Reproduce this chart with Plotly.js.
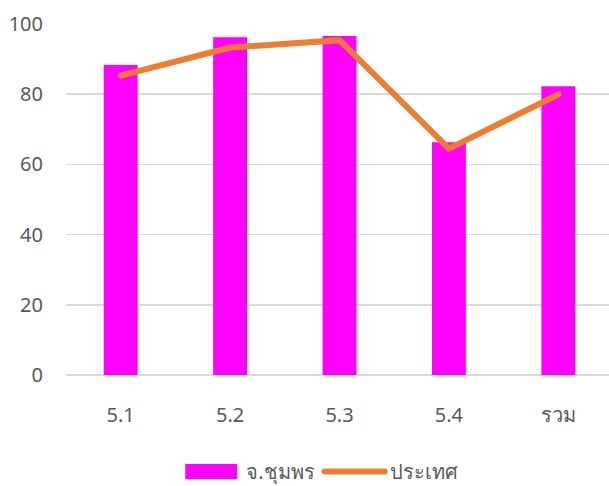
<!DOCTYPE html>
<html>
<head>
<meta charset="utf-8">
<script src="https://cdn.plot.ly/plotly-3.0.1.min.js"></script>
<style>
html,body{margin:0;padding:0;overflow:hidden;background:#fff;}
#chart{width:609px;height:486px;}
</style>
</head>
<body>
<div id="chart"></div>
<script>
const categories = ["5.1", "5.2", "5.3", "5.4", "รวม"];
const chumphonValues = [88.3, 96.2, 96.6, 66.3, 82.3];
const countryValues = [85.3, 93.3, 95.4, 64.5, 79.9];
const seriesNames = ["จ.ชุมพร", "ประเทศ"];
const yTicks = [0, 20, 40, 60, 80, 100];

const fontFamily = '"Noto Sans", "Open Sans", "DejaVu Sans", sans-serif';

const traces = [
  {
    type: "bar",
    name: seriesNames[0],
    x: categories,
    y: chumphonValues,
    marker: {color: "#FF00FF"},
    hoverinfo: "skip"
  },
  {
    type: "scatter",
    mode: "lines",
    name: seriesNames[1],
    x: categories,
    y: countryValues,
    line: {color: "#ED7D31", width: 6},
    hoverinfo: "skip"
  }
];

const layout = {
  width: 609,
  height: 486,
  margin: {l: 66, r: 0, t: 24, b: 111, pad: 0},
  paper_bgcolor: "#ffffff",
  plot_bgcolor: "#ffffff",
  bargap: 0.69,
  showlegend: true,
  font: {family: fontFamily, color: "#595959", size: 20},
  xaxis: {
    type: "category",
    range: [-0.5, 4.463],
    showgrid: false,
    zeroline: false,
    showline: false,
    ticks: "",
    ticklabelstandoff: 26,
    tickfont: {family: fontFamily, size: 20, color: "#595959"}
  },
  yaxis: {
    range: [0, 100],
    tickvals: yTicks,
    showgrid: true,
    gridcolor: "#D9D9D9",
    gridwidth: 1.5,
    zeroline: true,
    zerolinecolor: "#D9D9D9",
    zerolinewidth: 1.5,
    showline: false,
    ticks: "",
    ticklabelstandoff: 22,
    tickfont: {family: fontFamily, size: 20, color: "#595959"}
  },
  legend: {
    orientation: "h",
    xref: "container",
    yref: "container",
    x: 0.525,
    xanchor: "center",
    y: 0.03,
    yanchor: "middle",
    itemwidth: 60,
    font: {family: fontFamily, size: 20, color: "#595959"},
    traceorder: "normal"
  }
};

Plotly.newPlot("chart", traces, layout, {staticPlot: true, displayModeBar: false}).then(function (gd) {
  // legend swatch styling: wide rectangle for the bar series, rounded caps for lines
  gd.querySelectorAll(".legend .legendpoints path").forEach(function (p) {
    p.setAttribute("d", "M26,7.5H-26V-7.5H26Z");
  });
  gd.querySelectorAll(".legend .legendlines path, .scatterlayer .js-line").forEach(function (p) {
    p.style.strokeLinecap = "round";
  });
});
</script>
</body>
</html>
